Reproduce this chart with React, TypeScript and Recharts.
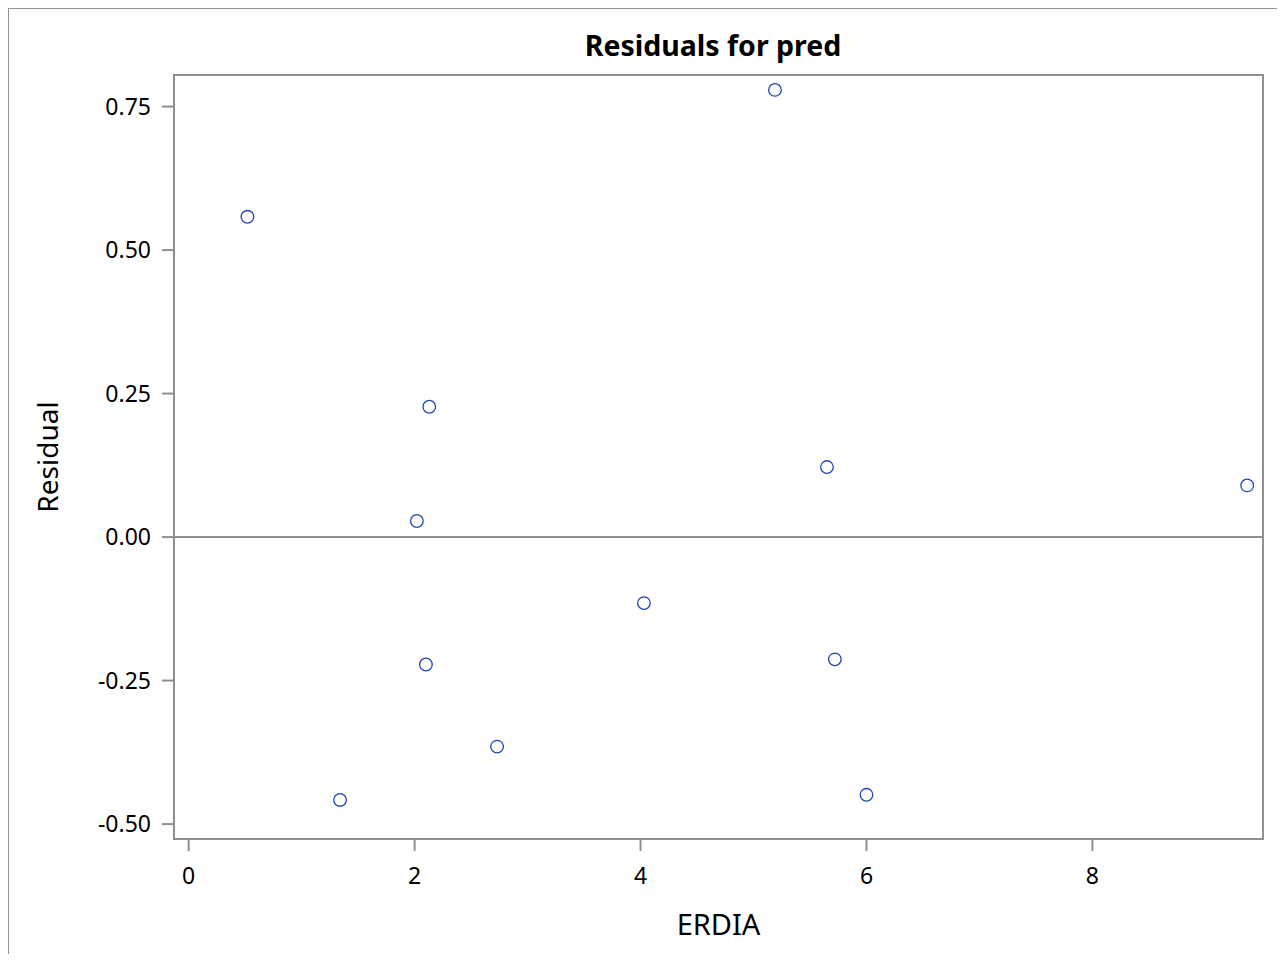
import React from "react";
import {
  ScatterChart,
  Scatter,
  XAxis,
  YAxis,
  ReferenceLine,
  ReferenceArea,
  Label,
} from "recharts";

// ERDIA values and residuals
const erdia = [0.52, 1.34, 2.02, 2.13, 2.1, 2.73, 4.03, 5.19, 5.65, 5.72, 6.0, 9.37];
const residual = [0.558, -0.458, 0.028, 0.227, -0.222, -0.365, -0.115, 0.779, 0.122, -0.213, -0.449, 0.09];

const xTicks = [0, 2, 4, 6, 8];
const yTicks = [-0.5, -0.25, 0, 0.25, 0.5, 0.75];
const xDomain = [-0.13, 9.51];
const yDomain = [-0.526, 0.805];

const points = erdia.map((x, i) => ({ x, y: residual[i] }));

const FONT = '"Noto Sans", sans-serif';
const GRAY = "#8f8f8f";

const OpenCircle = (props: any) => (
  <circle
    cx={props.cx}
    cy={props.cy}
    r={6.3}
    fill="none"
    stroke="#2046b4"
    strokeWidth={1.3}
  />
);

export default function App() {
  return (
    <div style={{ position: "relative", width: 1269, height: 946, fontFamily: FONT }}>
      <div
        style={{
          position: "absolute",
          left: 447,
          top: 21,
          width: 516,
          textAlign: "center",
          fontSize: 28.5,
          fontWeight: 700,
          lineHeight: "32px",
          color: "#000",
        }}
      >
        Residuals for pred
      </div>
      <ScatterChart
        width={1269}
        height={946}
        margin={{ top: 67, right: 14, left: 0, bottom: 0 }}
        style={{ position: "absolute", left: 0, top: 0 }}
      >
        <XAxis
          type="number"
          dataKey="x"
          domain={xDomain}
          ticks={xTicks}
          allowDataOverflow
          height={115}
          axisLine={{ stroke: GRAY, strokeWidth: 2 }}
          tickLine={{ stroke: GRAY, strokeWidth: 2 }}
          tickSize={12}
          tickMargin={17}
          tick={{ fill: "#000", fontSize: 23, fontFamily: FONT }}
        >
          <Label
            value="ERDIA"
            position="insideBottom"
            offset={19}
            style={{ fill: "#000", fontSize: 29, fontFamily: FONT }}
          />
        </XAxis>
        <YAxis
          type="number"
          dataKey="y"
          domain={yDomain}
          ticks={yTicks}
          allowDataOverflow
          width={166}
          axisLine={{ stroke: GRAY, strokeWidth: 2 }}
          tickLine={{ stroke: GRAY, strokeWidth: 2 }}
          tickSize={12}
          tickMargin={11}
          tickFormatter={(v: number) => v.toFixed(2)}
          tick={{ fill: "#000", fontSize: 23, fontFamily: FONT }}
        >
          <Label
            value="Residual"
            angle={-90}
            position="insideLeft"
            offset={40}
            style={{ fill: "#000", fontSize: 28, fontFamily: FONT, textAnchor: "middle" }}
          />
        </YAxis>
        <ReferenceArea
          x1={xDomain[0]}
          x2={xDomain[1]}
          y1={yDomain[0]}
          y2={yDomain[1]}
          fill="none"
          stroke={GRAY}
          strokeWidth={2}
          ifOverflow="visible"
        />
        <ReferenceLine y={0} stroke={GRAY} strokeWidth={2} />
        <Scatter data={points} shape={OpenCircle} isAnimationActive={false} />
      </ScatterChart>
      {/* outer graph border, open at the bottom */}
      <div
        style={{
          position: "absolute",
          left: -1,
          top: -1,
          width: 1276,
          height: 955,
          borderLeft: "2px solid #939393",
          borderTop: "2px solid #939393",
          borderRight: "2px solid #c8c8c8",
          boxSizing: "border-box",
          zIndex: 1,
          pointerEvents: "none",
        }}
      />
    </div>
  );
}
